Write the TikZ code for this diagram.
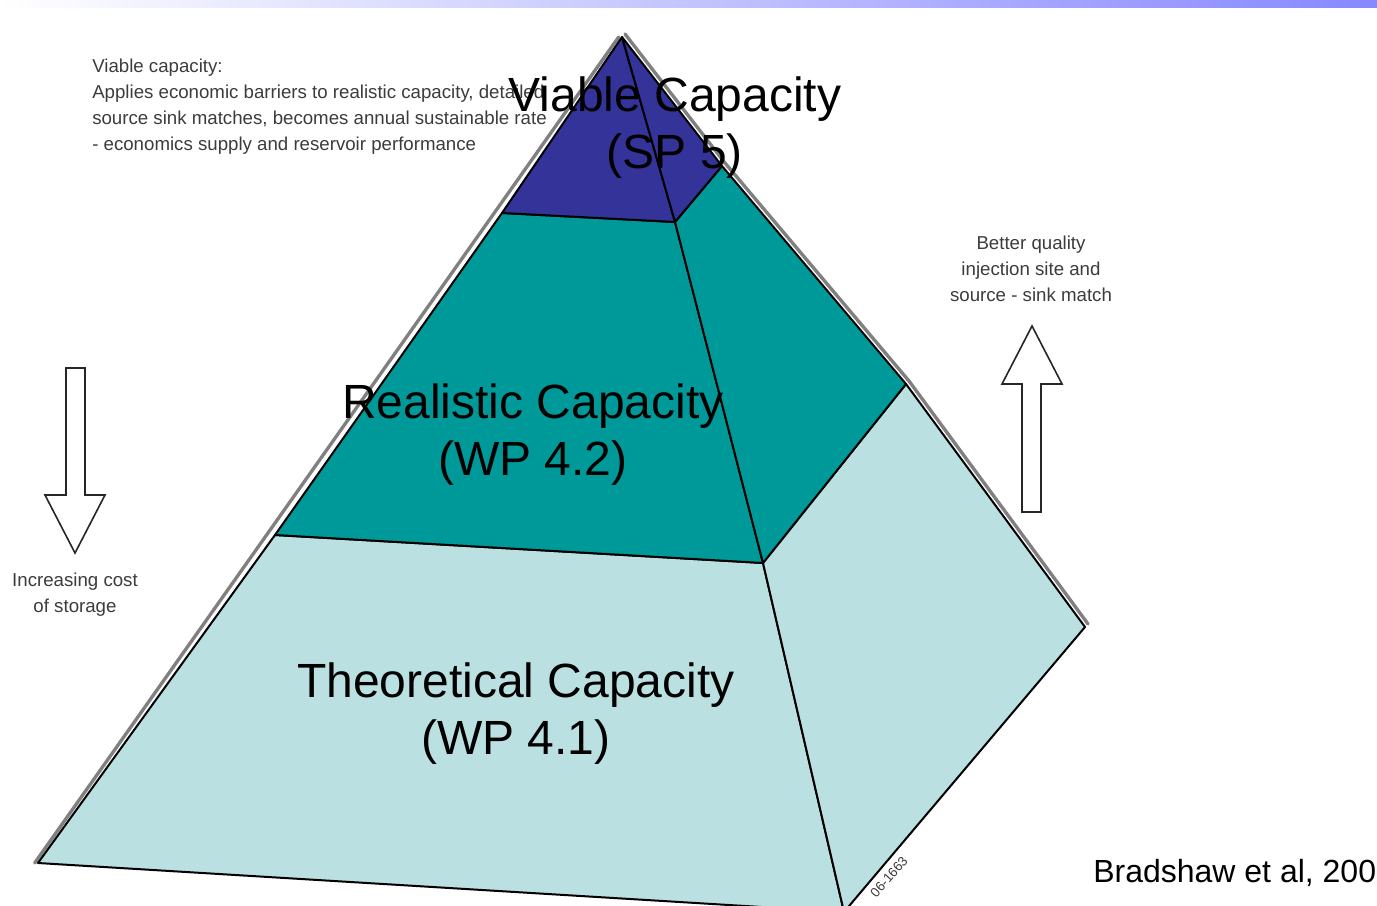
\documentclass[tikz,border=0pt]{standalone}
\usepackage{fontspec}
\setmainfont{Liberation Sans}
\usepackage{tikz}

\definecolor{viableblue}{RGB}{51,51,153}
\definecolor{realteal}{RGB}{0,153,153}
\definecolor{theolight}{RGB}{187,224,226}
\definecolor{barblue}{RGB}{136,136,255}
\definecolor{notegray}{RGB}{60,60,60}
\newcommand{\layerfont}{\fontsize{36}{42.75}\selectfont}
\newcommand{\notefont}{\fontsize{14}{19.4}\selectfont}

\begin{document}
\begin{tikzpicture}[x=0.75pt, y=-0.75pt,
    face/.style={draw=black, line width=1.5pt, line join=round},
    shadow/.style={draw=black!50, line width=2.5pt, line cap=round},
    layer/.style={font=\layerfont, align=center, inner sep=0pt},
    note/.style={font=\notefont, text=notegray, inner sep=0pt},
    hollow/.style={draw=black!85, line width=1.2pt, fill=white, line join=miter}]

    \useasboundingbox (0,0) rectangle (1377,906);
    \clip (0,0) rectangle (1377,906);
    \fill[white] (0,0) rectangle (1377,906);
    \shade[left color=white, right color=barblue] (0,0) rectangle (1377,8);

    % corners of the pyramid
    \coordinate (apex) at (622,37);
    \coordinate (l1) at (502,213);
    \coordinate (r1) at (675,222);
    \coordinate (e1) at (722,166);
    \coordinate (l2) at (275,535);
    \coordinate (r2) at (763,563);
    \coordinate (e2) at (906,384);
    \coordinate (bl) at (38,863);
    \coordinate (bm) at (844,912);
    \coordinate (br) at (1085,627);

    % blurred outer edges
    \draw[shadow] ([xshift=-2.5pt]apex) -- ([xshift=-2.5pt]bl);
    \draw[shadow] ([shift={(3,-3)}]apex) -- ([shift={(3,-3)}]e1) -- ([shift={(3,-3)}]e2)
        -- ([shift={(3,-3)}]br);

    % faces, bottom to top
    \filldraw[face, fill=theolight] (l2) -- (bl) -- (bm) -- (r2) -- cycle;
    \filldraw[face, fill=theolight] (r2) -- (bm) -- (br) -- (e2) -- cycle;
    \filldraw[face, fill=realteal] (l1) -- (l2) -- (r2) -- (r1) -- cycle;
    \filldraw[face, fill=realteal] (r1) -- (r2) -- (e2) -- (e1) -- cycle;
    \filldraw[face, fill=viableblue] (apex) -- (l1) -- (r1) -- cycle;
    \filldraw[face, fill=viableblue] (apex) -- (r1) -- (e1) -- cycle;

    \node[note, anchor=north west, align=left] (viablenote) at (92,59)
        {Viable capacity:\\Applies economic barriers to realistic capacity, detailed\\
         source sink matches, becomes annual sustainable rate\\
         - economics supply and reservoir performance};
    \node[note, align=center] (qualitynote) at (1031,269)
        {Better quality\\injection site and\\source - sink match};
    \node[note, align=center] (costnote) at (75,595) {Increasing cost\\of storage};

    \node[layer] (viable) at (675,128) {Viable Capacity\\(SP 5)};
    \node[layer] (realistic) at (533,435) {Realistic Capacity\\(WP 4.2)};
    \node[layer] (theoretical) at (516,714) {Theoretical Capacity\\(WP 4.1)};

    % hollow arrows
    \draw[hollow] (66,368) -- (85,368) -- (85,495) -- (105,495) -- (75,553)
        -- (45,495) -- (66,495) -- cycle;
    \draw[hollow] (1032,326) -- (1062,384) -- (1041,384) -- (1041,512)
        -- (1022,512) -- (1022,384) -- (1002,384) -- cycle;

    \node[font=\fontsize{10}{12}\selectfont, text=notegray, rotate=49, inner sep=0pt]
        (figcode) at (889,877) {06-1663};
    \node[font=\fontsize{24}{28}\selectfont, anchor=base west, inner sep=0pt]
        (source) at (1093,882) {Bradshaw et al, 2006};
\end{tikzpicture}
\end{document}
